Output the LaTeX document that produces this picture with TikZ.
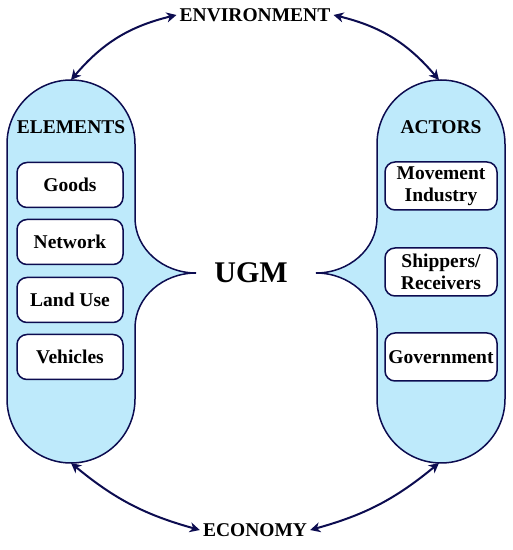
\documentclass[tikz,border=0pt]{standalone}
\usepackage{fontspec}
\setmainfont{Liberation Serif}
\usetikzlibrary{arrows.meta}
\definecolor{navy}{RGB}{12,12,80}
\definecolor{capfill}{RGB}{190,234,251}
\begin{document}
\begin{tikzpicture}[x=1pt,y=1pt,
  lbl/.style={font=\bfseries\fontsize{19.5}{22}\selectfont, inner sep=0pt, align=center},
  itembox/.style={draw=navy, line width=1.5pt, fill=white, rounded corners=10pt,
    font=\bfseries\fontsize{19.5}{22}\selectfont, align=center, inner sep=0pt},
  capsule/.style={draw=navy, line width=1.5pt, fill=capfill},
  link/.style={draw=navy, line width=2pt, {Stealth[length=10pt,width=10pt,inset=3pt]}-{Stealth[length=10pt,width=10pt,inset=3pt]}}
]
\useasboundingbox (0,0) rectangle (513,550);
% left capsule
\path[capsule] (7,151) -- (7,406) arc[start angle=180,end angle=0,radius=64]
  -- (135,332) .. controls (135,301) and (163,277) .. (196,277)
  .. controls (163,277) and (135,253) .. (135,222)
  -- (135,151) arc[start angle=0,end angle=-180,radius=64] -- cycle;
% right capsule
\path[capsule] (505,151) -- (505,406) arc[start angle=0,end angle=180,radius=64]
  -- (377,332) .. controls (377,301) and (349,277) .. (316,277)
  .. controls (349,277) and (377,253) .. (377,222)
  -- (377,151) arc[start angle=180,end angle=360,radius=64] -- cycle;
\coordinate (ltop) at (71,470);
\coordinate (lbot) at (71,87);
\coordinate (rtop) at (439,470);
\coordinate (rbot) at (439,87);
% labels
\node[lbl] (env) at (255,535) {ENVIRONMENT};
\node[lbl] (eco) at (255,20) {ECONOMY};
\node[lbl, font=\bfseries\fontsize{30}{32}\selectfont] (ugm) at (251,277) {UGM};
\node[lbl] (elem) at (71,423) {ELEMENTS};
\node[lbl] (act) at (441,423) {ACTORS};
% element boxes
\node[itembox, minimum width=106pt, minimum height=45pt] (goods) at (70,365) {Goods};
\node[itembox, minimum width=106pt, minimum height=45pt] (net) at (70,308) {Network};
\node[itembox, minimum width=106pt, minimum height=45pt] (land) at (70,250) {Land Use};
\node[itembox, minimum width=106pt, minimum height=45pt] (veh) at (70,193) {Vehicles};
% actor boxes
\node[itembox, minimum width=112pt, minimum height=48pt] (mov) at (441,364) {Movement\\Industry};
\node[itembox, minimum width=112pt, minimum height=48pt] (ship) at (441,278) {Shippers/\\Receivers};
\node[itembox, minimum width=112pt, minimum height=48pt] (gov) at (441,193) {Government};
% arrows
\draw[link] ([xshift=-3pt]env.west) to[bend right=18] (ltop);
\draw[link] ([xshift=3pt]env.east) to[bend left=18] (rtop);
\draw[link] (lbot) to[bend right=12] ([xshift=-3pt]eco.west);
\draw[link] (rbot) to[bend left=12] ([xshift=3pt]eco.east);
\end{tikzpicture}
\end{document}
